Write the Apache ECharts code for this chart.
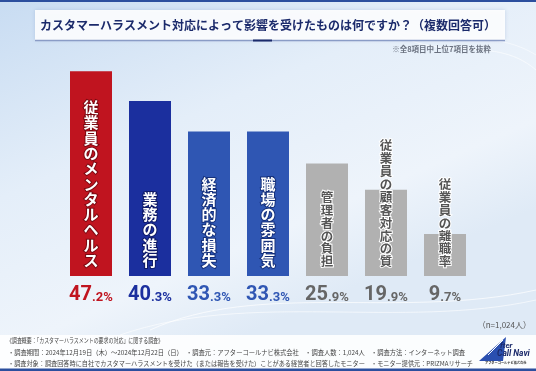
<!DOCTYPE html>
<html><head><meta charset="utf-8">
<script src="https://cdn.jsdelivr.net/npm/echarts@6/dist/echarts.min.js"></script>
<style>html,body{margin:0;padding:0;}#c{width:536px;height:371px;}</style>
</head><body><div id="c"></div>
<script>
const categories = ['従業員のメンタルヘルス','業務の進行','経済的な損失','職場の雰囲気','管理者の負担','従業員の顧客対応の質','従業員の離職率'];
const values = [47.2, 40.3, 33.3, 33.3, 25.9, 19.9, 9.7];
const titleText = 'カスタマーハラスメント対応によって影響を受けたものは何ですか？（複数回答可）';
const noteText = '※全8項目中上位7項目を抜粋';
const sampleText = '（n=1,024人）';
const footerLines = [
  '《調査概要：「カスタマーハラスメントの要求の対応」に関する調査》',
  '・調査期間：2024年12月19日（木）～2024年12月22日（日）　・調査元：アフターコールナビ株式会社　・調査人数：1,024人　・調査方法：インターネット調査',
  '・調査対象：調査回答時に自社でカスタマーハラスメントを受けた（または報告を受けた）ことがある経営者と回答したモニター　・モニター提供元：PRIZMAリサーチ'
];

const JP = '"Noto Sans CJK JP", "Noto Sans", sans-serif';
const barColors = ['#c0141f','#1b2f9e','#2f56b3','#2f56b3','#b1b1b1','#b1b1b1','#b1b1b1'];
const textBorder = ['#7a0a12','#0f1a66','#15307a','#15307a','#ffffff','#ffffff','#ffffff'];
const valColorKey = ['r','n','b','b','g','g','g'];
const isGray = i => i >= 4;

const chart = echarts.init(document.getElementById('c'), null, {renderer:'canvas'});

const barData = values.map((v, i) => ({
  value: v,
  itemStyle: { color: barColors[i] },
  label: {
    show: true,
    position: 'insideBottom',
    distance: 8,
    formatter: categories[i].split('').join('\n'),
    color: isGray(i) ? '#555555' : '#ffffff',
    fontFamily: JP,
    fontWeight: 'bold',
    fontSize: isGray(i) ? 12.5 : 15,
    lineHeight: isGray(i) ? 12.9 : 15.3,
    textBorderColor: textBorder[i],
    textBorderWidth: 2
  }
}));

const rich = {};
const valColors = {r:'#c0141f', n:'#1b2f9e', b:'#2f56b3', g:'#666666'};
Object.keys(valColors).forEach(k => {
  rich[k + 'B'] = {color: valColors[k], fontSize: 20, fontWeight: 'bold', fontFamily: 'Roboto', lineHeight: 22, verticalAlign: 'bottom'};
  rich[k + 'S'] = {color: valColors[k], fontSize: 13, fontWeight: 'bold', fontFamily: 'Roboto', lineHeight: 18, verticalAlign: 'bottom', padding:[0,0,1,0]};
});

// footer text: condensed horizontally to fit the original line extents
const mctx = document.createElement('canvas').getContext('2d');
const footFont = '6.6px ' + JP;
mctx.font = footFont;
const footSpec = [{x:7, y:340.5, right:163}, {x:8, y:352, right:465}, {x:8, y:363, right:473}];
const footerGraphics = footerLines.map((t, i) => {
  const w = mctx.measureText(t).width || 1;
  const s = (footSpec[i].right - footSpec[i].x) / w;
  return { type:'text', z:10, x: footSpec[i].x, y: footSpec[i].y, scaleX: s,
    style:{ text:t, x:0, y:0, verticalAlign:'middle', font: footFont, fill:'#444' } };
});

const option = {
  backgroundColor: 'transparent',
  animation: false,
  graphic: [
    { type:'rect', z:-10, shape:{x:0,y:0,width:536,height:371},
      style:{ fill: new echarts.graphic.LinearGradient(0,0,0.3,1,[
        {offset:0,color:'#c8dcf2'},{offset:0.45,color:'#e4eef9'},{offset:0.8,color:'#eef4fb'},{offset:1,color:'#dfeaf6'}]) } },
    { type:'rect', z:-9, shape:{x:0,y:0,width:536,height:2}, style:{fill:'#2c4f9e'} },
    { type:'bezierCurve', z:-9, shape:{x1:380,y1:20,x2:536,y2:70,cpx1:430,cpy1:70,cpx2:490,cpy2:30}, style:{stroke:'rgba(255,255,255,0.6)',lineWidth:1,fill:null} },
    { type:'bezierCurve', z:-9, shape:{x1:360,y1:10,x2:536,y2:55,cpx1:420,cpy1:60,cpx2:480,cpy2:20}, style:{stroke:'rgba(255,255,255,0.5)',lineWidth:1,fill:null} },
    { type:'bezierCurve', z:-9, shape:{x1:150,y1:330,x2:536,y2:290,cpx1:260,cpy1:280,cpx2:400,cpy2:320}, style:{stroke:'rgba(255,255,255,0.7)',lineWidth:1,fill:null} },
    { type:'bezierCurve', z:-9, shape:{x1:120,y1:335,x2:536,y2:300,cpx1:250,cpy1:290,cpx2:400,cpy2:330}, style:{stroke:'rgba(255,255,255,0.6)',lineWidth:1,fill:null} },
    { type:'rect', z:-8, shape:{x:35,y:10,width:470,height:30}, style:{fill:'rgba(255,255,255,0.9)', shadowBlur:4, shadowColor:'rgba(80,110,170,0.25)'} },
    { type:'line', z:-7, shape:{x1:35,y1:40.5,x2:505,y2:40.5}, style:{stroke:'#8a9cc6',lineWidth:1.5} },
    { type:'line', z:-6, shape:{x1:253,y1:40.5,x2:272,y2:40.5}, style:{stroke:'#1b2a6b',lineWidth:2} },
    { type:'text', z:10, style:{ text:titleText, x:268, y:25, align:'center', verticalAlign:'middle',
        font:'bold 12px ' + JP, fill:'#1b2a6b' } },
    { type:'text', z:10, style:{ text:noteText, x:491, y:49, align:'right', verticalAlign:'middle',
        font:'bold 7.5px ' + JP, fill:'#6b7280' } },
    { type:'text', z:10, style:{ text:sampleText, x:531, y:325, align:'right', verticalAlign:'middle',
        font:'8px ' + JP, fill:'#555' } },
    { type:'rect', z:-5, shape:{x:0,y:335,width:536,height:36}, style:{fill:'rgba(255,255,255,0.88)'} },
    { type:'rect', z:5, shape:{x:0,y:368.5,width:536,height:2.5}, style:{fill:'#2c4f9e'} },
    ...footerGraphics,
    { type:'polygon', z:10, shape:{points:[[479,361],[506,337],[503,361]]}, style:{fill:'#2a4fb0'} },
    { type:'line', z:11, shape:{x1:488,y1:355,x2:503,y2:340}, style:{stroke:'#ffffff',lineWidth:1} },
    { type:'text', z:11, style:{ text:'fter', x:500, y:346, verticalAlign:'middle', font:'italic bold 8px Roboto', fill:'#1b2a6b' } },
    { type:'text', z:11, style:{ text:'Call Navi', x:497, y:353.5, verticalAlign:'middle', font:'italic bold 8.5px Roboto', fill:'#1b2a6b' } },
    { type:'text', z:11, style:{ text:'アフターコールナビ株式会社', x:485, y:362.5, verticalAlign:'middle', font:'bold 3.2px ' + JP, fill:'#333' } }
  ],
  grid: { left: 61.5, right: 61.5, top: 59, bottom: 95 },
  xAxis: {
    type: 'category',
    data: categories,
    axisLine: {show:false}, axisTick: {show:false}, splitLine:{show:false},
    axisLabel: {
      margin: 7,
      interval: 0,
      formatter: (val, idx) => {
        const s = values[idx].toFixed(1);
        const dot = s.indexOf('.');
        const k = valColorKey[idx];
        return '{' + k + 'B|' + s.slice(0, dot) + '}{' + k + 'S|' + s.slice(dot) + '%}';
      },
      rich: rich
    }
  },
  yAxis: { type:'value', min:0, max:50, show:false, splitLine:{show:false} },
  series: [{
    type: 'bar',
    data: barData,
    barWidth: 42
  }]
};
chart.setOption(option);
</script>
</body></html>
